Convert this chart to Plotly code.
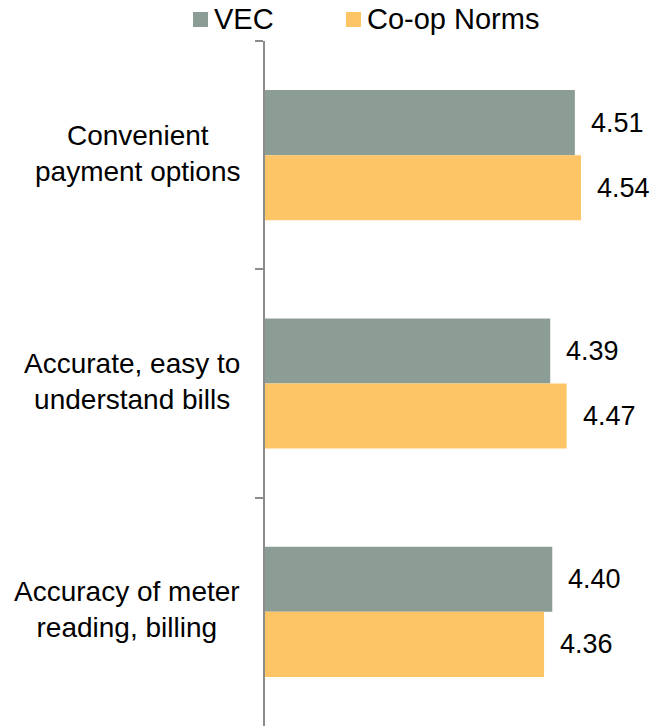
import plotly.graph_objects as go

categories = [
    "Convenient<br>payment options",
    "Accurate, easy to<br>understand bills",
    "Accuracy of meter<br>reading, billing",
]
series_names = ["VEC", "Co-op Norms"]
vec_values = [4.51, 4.39, 4.40]
coop_values = [4.54, 4.47, 4.36]
series_values = [vec_values, coop_values]
series_colors = ["#8B9D95", "#FDC566"]

FONT = "Arial, Liberation Sans, sans-serif"
W, H = 664, 727
ML, MR, MT, MB = 265, 0, 41, 1
PW, PH = W - ML - MR, H - MT - MB
BARGAP = 0.43


def px_x(px):
    return (px - ML) / PW


def px_y(py):
    return 1 + (MT - py) / PH


fig = go.Figure()
for name, vals, color in zip(series_names, series_values, series_colors):
    fig.add_trace(go.Bar(
        y=categories, x=vals, name=name, orientation="h",
        marker=dict(color=color, line=dict(width=0)),
        base=0, showlegend=False,
    ))

annotations = []
shapes = []

# value labels to the right of each bar, centred on the bar
bar_w = (1 - BARGAP) / len(series_values)
for si, vals in enumerate(series_values):
    off = -(1 - BARGAP) / 2 + bar_w * (si + 0.5)
    for ci, v in enumerate(vals):
        annotations.append(dict(
            x=v, y=ci + off, xref="x", yref="y",
            text=f"{v:.2f}", showarrow=False, xanchor="left", yanchor="middle",
            xshift=14, yshift=0,
            font=dict(family=FONT, size=27, color="#000000"),
        ))

# category labels, centred in a block right-aligned against the axis
for ci, cat in enumerate(categories):
    annotations.append(dict(
        x=0, y=ci, xref="paper", yref="y", text=cat, showarrow=False,
        xanchor="right", yanchor="middle", align="center", xshift=-23,
        yshift=2,
        font=dict(family=FONT, size=28, color="#000000"),
    ))

# legend: colour squares with series names across the top
legend_sq_left = [193, 346]
for name, color, left in zip(series_names, series_colors, legend_sq_left):
    shapes.append(dict(
        type="rect", xref="paper", yref="paper",
        x0=px_x(left), x1=px_x(left + 15), y0=px_y(27), y1=px_y(12),
        fillcolor=color, line=dict(width=0),
    ))
    annotations.append(dict(
        x=px_x(left + 19), y=px_y(19), xref="paper", yref="paper",
        text=name, showarrow=False, xanchor="left", yanchor="middle",
        font=dict(family=FONT, size=29, color="#000000"),
    ))

fig.update_layout(
    width=W, height=H,
    margin=dict(l=ML, r=MR, t=MT, b=MB),
    paper_bgcolor="white", plot_bgcolor="white",
    barmode="group", bargap=BARGAP, bargroupgap=0,
    font=dict(family=FONT, size=28, color="#000000"),
    showlegend=False,
    xaxis=dict(
        range=[3, 3 + PW / 205.2], visible=False, fixedrange=True,
    ),
    yaxis=dict(
        type="category", autorange="reversed", showticklabels=False,
        showline=True, linecolor="#8C8C8C", linewidth=2,
        ticks="outside", ticklen=8, tickcolor="#8C8C8C", tickwidth=2,
        tickson="boundaries", showgrid=False, zeroline=False,
    ),
    annotations=annotations,
    shapes=shapes,
)

fig.write_html("out.html")
